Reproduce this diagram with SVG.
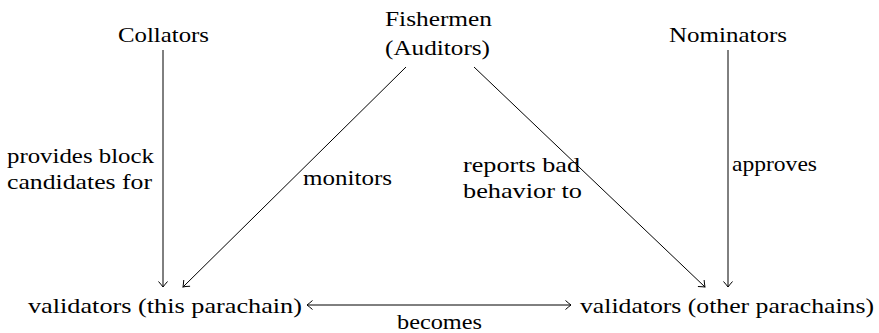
<svg xmlns="http://www.w3.org/2000/svg" width="879" height="333" viewBox="0 0 879 333">
<style>
text { font-family: "Liberation Serif", "Noto Serif", "DejaVu Serif", Tinos, "Times New Roman", Times, Georgia, serif; font-size: 22px; fill: #000; }
.c line { stroke: #000; stroke-width: 1; fill: none; marker-end: url(#to); }
</style>
<defs>
<marker id="to" viewBox="-8 -6 10 12" markerWidth="10" markerHeight="12" refX="0" refY="0" orient="auto-start-reverse" markerUnits="userSpaceOnUse">
<path d="M -5.5,-4.5 Q -1.5,-1 0,0 Q -1.5,1 -5.5,4.5" fill="none" stroke="#000" stroke-width="1"/>
</marker>
</defs>
<rect width="879" height="333" fill="#fff"/>
<g id="collators"><text x="118" y="42" textLength="91" lengthAdjust="spacingAndGlyphs">Collators</text></g>
<g id="fishermen">
<text x="385" y="26" textLength="107" lengthAdjust="spacingAndGlyphs">Fishermen</text>
<text x="385" y="55" textLength="105" lengthAdjust="spacingAndGlyphs">(Auditors)</text>
</g>
<g id="nominators"><text x="669" y="42" textLength="118" lengthAdjust="spacingAndGlyphs">Nominators</text></g>
<g id="validators-this"><text x="28" y="313" textLength="274" lengthAdjust="spacingAndGlyphs">validators (this parachain)</text></g>
<g id="validators-other"><text x="580" y="313" textLength="294" lengthAdjust="spacingAndGlyphs">validators (other parachains)</text></g>
<g class="c" id="connectors">
<line x1="163" y1="50" x2="163" y2="287"/>
<line x1="406" y1="67" x2="183" y2="287"/>
<line x1="474" y1="67" x2="705" y2="287"/>
<line x1="728" y1="50" x2="728" y2="287"/>
<line x1="307" y1="305" x2="571" y2="305" marker-start="url(#to)"/>
</g>
<g id="labels">
<text x="7" y="163" textLength="147" lengthAdjust="spacingAndGlyphs">provides block</text>
<text x="7" y="189" textLength="145" lengthAdjust="spacingAndGlyphs">candidates for</text>
<text x="303" y="185" textLength="89" lengthAdjust="spacingAndGlyphs">monitors</text>
<text x="463" y="172" textLength="117" lengthAdjust="spacingAndGlyphs">reports bad</text>
<text x="463" y="198" textLength="119" lengthAdjust="spacingAndGlyphs">behavior to</text>
<text x="732" y="171" textLength="85" lengthAdjust="spacingAndGlyphs">approves</text>
<text x="397" y="329" textLength="85" lengthAdjust="spacingAndGlyphs">becomes</text>
</g>
</svg>
